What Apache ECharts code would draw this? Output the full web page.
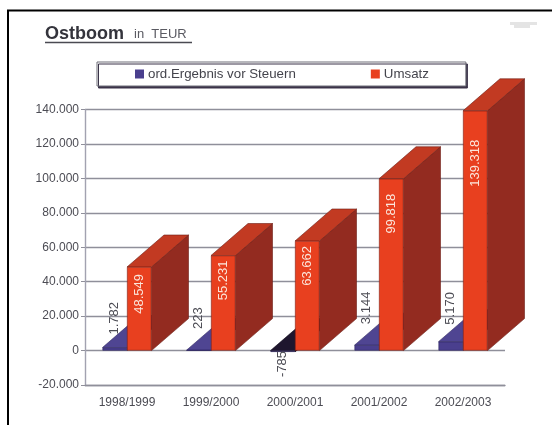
<!DOCTYPE html>
<html>
<head>
<meta charset="utf-8">
<style>
html,body{margin:0;padding:0;background:#fff;overflow:hidden}
#chart{width:552px;height:425px;filter:blur(0.6px)}
</style>
<script src="https://cdn.jsdelivr.net/npm/echarts@6/dist/echarts.min.js"></script>
</head>
<body>
<div id="chart"></div>
<script>
const categories = ['1998/1999','1999/2000','2000/2001','2001/2002','2002/2003'];
const ergebnis = [1782, 223, -785, 3144, 5170];
const umsatz = [48549, 55231, 63662, 99818, 139318];

const ergebnisLabels = ['1.782','223','-785','3.144','5.170'];
const umsatzLabels = ['48.549','55.231','63.662','99.818','139.318'];
const yTicks = {min:-20000, max:140000, interval:20000};

// label placement tuning (px), reference places these by hand
const ergebnisLabelGap = [10, 17, 3, 15, 13];
const ergebnisLabelShift = [3, 4, 4, 6, 4];
const umsatzLabelGap = [7, 5, 5, 15, 29];

const BAR_W = 24.5, DX = 37, DY = 32;
const fmt = v => String(v).replace(/\B(?=(\d{3})+(?!\d))/g, '.');

function depth(side, colors) {
  return function (params, api) {
    const i = api.value(0), v = api.value(1);
    const p = api.coord([i, v]), z = api.coord([i, 0]);
    const x0 = side < 0 ? p[0] - BAR_W : p[0], x1 = x0 + BAR_W;
    const top = Math.min(p[1], z[1]), bot = Math.max(p[1], z[1]);
    const c = v < 0 ? colors.negative : colors;
    const poly = (pts, fill) => ({type:'polygon', shape:{points:pts},
      style:{fill, stroke:c.line, lineWidth:0.6}});
    return {type:'group', children:[
      poly([[x1,top],[x1+DX,top-DY],[x1+DX,bot-DY],[x1,bot]], c.side),
      poly([[x0,top],[x0+DX,top-DY],[x1+DX,top-DY],[x1,top]], c.top)
    ]};
  };
}
const purple = {side:'#3a3078', top:'#4f4592', line:'#2d2560',
  negative:{side:'#1b1428', top:'#1e162e', line:'#120c1c'}};
const red = {side:'#932b20', top:'#c23a22', line:'#6d1c14'};
const idx = a => a.map((v,i)=>[i,v]);

const option = {
  animation:false,
  backgroundColor:'#fff',
  textStyle:{fontFamily:'"Liberation Sans", Arial, sans-serif'},
  title:{
    left:45, top:25, padding:0,
    text:'{a|Ostboom}  {b|in  TEUR}',
    textStyle:{rich:{
      a:{fontSize:18,fontWeight:'bold',color:'#34343c',fontFamily:'"Liberation Sans"'},
      b:{fontSize:13,fontWeight:'normal',color:'#5a5a62',fontFamily:'"Liberation Sans"'}
    }}
  },
  legend:{
    left:97, top:62, orient:'horizontal',
    padding:[5.5,37,5.5,38],
    itemWidth:9, itemHeight:9, itemGap:75, icon:'rect',
    itemStyle:{borderWidth:0},
    data:['ord.Ergebnis vor Steuern','Umsatz'],
    backgroundColor:'#fff', borderColor:'#6f6f78', borderWidth:1,
    shadowColor:'#3a3348', shadowBlur:0, shadowOffsetX:1.5, shadowOffsetY:2,
    textStyle:{fontSize:13.3,color:'#44444c',padding:[0,0,0,-1]}
  },
  grid:{left:85, right:47, top:109.6, bottom:40},
  xAxis:{
    type:'category', data:categories,
    axisLine:{onZero:false, lineStyle:{color:'#8f8f9a',width:1.4}},
    axisTick:{show:false},
    splitLine:{show:false},
    axisLabel:{margin:12,fontSize:12,color:'#4c4c54'}
  },
  yAxis:{
    type:'value', min:yTicks.min, max:yTicks.max, interval:yTicks.interval,
    axisLine:{show:true, lineStyle:{color:'#a2a2b0',width:1.4}},
    axisTick:{show:true,length:4,lineStyle:{color:'#8f8f9a'}},
    splitLine:{show:true,lineStyle:{color:'#8f8f9a',width:1.3}},
    axisLabel:{margin:6,fontSize:12,color:'#4c4c54',formatter:fmt}
  },
  series:[
    {type:'custom', name:'e3d', z:2, data:idx(ergebnis), encode:{x:0,y:1},
      renderItem:depth(-1,purple), silent:true},
    {type:'bar', name:'ord.Ergebnis vor Steuern', z:3, barWidth:BAR_W, barGap:0,
      itemStyle:{color:'#4a3f8e',borderColor:'#2d2560',borderWidth:0.6},
      data:ergebnis.map((v,i)=>({value:v,
        itemStyle:v<0?{color:'#1b1428'}:undefined,
        label:{show:true, formatter:ergebnisLabels[i], rotate:90,
          position:v<0?'bottom':'top', distance:ergebnisLabelGap[i],
          align:v<0?'right':'left', verticalAlign:'middle',
          offset:[ergebnisLabelShift[i],0],
          fontSize:13,color:'#4c4c54'}}))},
    {type:'custom', name:'u3d', z:4, data:idx(umsatz), encode:{x:0,y:1},
      renderItem:depth(1,red), silent:true},
    {type:'bar', name:'Umsatz', z:5, barWidth:BAR_W,
      itemStyle:{color:'#e8401f',borderColor:'#7d2015',borderWidth:0.6},
      data:umsatz.map((v,i)=>({value:v,
        label:{show:true, formatter:umsatzLabels[i], rotate:90,
          position:'insideTop', distance:umsatzLabelGap[i],
          align:'right', verticalAlign:'middle',
          fontSize:13,color:'#fbe6dc'}}))}
  ],
  graphic:[
    {type:'polyline', silent:true, z:0, shape:{points:[[8,440],[8,10.5],[560,10.5]]},
      style:{fill:null,stroke:'#000',lineWidth:2}},
    {type:'line', silent:true, shape:{x1:45,y1:42.5,x2:192,y2:42.5},
      style:{stroke:'#4a4a52',lineWidth:1.3}},
    {type:'rect', silent:true, shape:{x:510,y:22,width:27,height:3},
      style:{fill:'#e4e4e4'}},
    {type:'rect', silent:true, shape:{x:514,y:25,width:16,height:3},
      style:{fill:'#e4e4e4'}}
  ]
};
echarts.init(document.getElementById('chart'),null,{renderer:'canvas'}).setOption(option);
</script>
</body>
</html>
